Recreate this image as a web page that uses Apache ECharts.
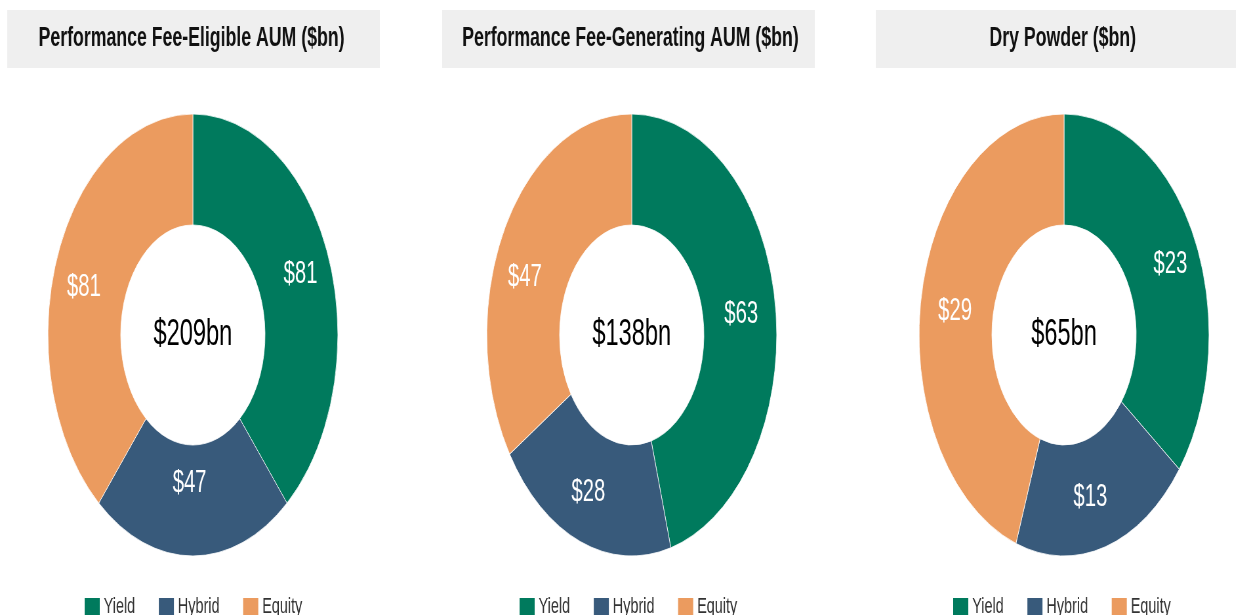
<!DOCTYPE html>
<html>
<head>
    <meta charset="UTF-8">
    <title>Performance Fee AUM</title>
    <script src="https://cdn.jsdelivr.net/npm/echarts@6/dist/echarts.min.js"></script>
</head>
<body style="margin: 0; width: 1236px; height: 615px; overflow: hidden; background: #fff">
    <!-- the source picture is squeezed horizontally, so draw at full width and scale the box -->
    <div id="main" style="width: 1884px; height: 615px; transform: scaleX(0.656); transform-origin: 0 0;"></div>
    <script>
        var categories = ['Yield', 'Hybrid', 'Equity'];
        var chartTitles = ['Performance Fee-Eligible AUM ($bn)', 'Performance Fee-Generating AUM ($bn)', 'Dry Powder ($bn)'];
        var eligibleValues = [81, 47, 81];
        var generatingValues = [63, 28, 47];
        var dryPowderValues = [23, 13, 29];

        var colors = ['#007a5d', '#385a7b', '#eb9b5f'];
        var font = 'Arial, "Liberation Sans", sans-serif';

        var myChart = echarts.init(document.getElementById('main'));

        var allValues = [eligibleValues, generatingValues, dryPowderValues];
        var centersX = [294, 963, 1622];
        var boxesX = [11, 674, 1335];
        var legendsX = [122, 785, 1446];
        // labels in the source were nudged by hand, not sitting exactly mid-ring
        var labelNudges = [
            [[6, -2], [-5, -20], [-8, 11]],
            [[0, 2], [-6, 0], [-15, 23]],
            [[11, 4], [-8, 1], [0, 5]]
        ];

        var series = [];
        var graphics = [];
        var legends = [];

        allValues.forEach(function(values, i) {
            var total = values.reduce(function(a, b) { return a + b; }, 0);

            series.push({
                type: 'pie',
                center: [centersX[i], 335],
                radius: [110, 221],
                startAngle: 90,
                clockwise: true,
                silent: true,
                itemStyle: { borderColor: '#fff', borderWidth: 0.8 },
                label: {
                    show: true,
                    position: 'inside',
                    formatter: '${c}',
                    color: '#fff',
                    fontSize: 31,
                    fontFamily: font
                },
                labelLine: { show: false },
                data: categories.map(function(name, j) {
                    return {
                        name: name,
                        value: values[j],
                        label: { offset: labelNudges[i][j] }
                    };
                })
            });

            // grey header box
            graphics.push({
                type: 'rect',
                shape: { x: boxesX[i], y: 10, width: 568, height: 58 },
                style: { fill: '#efefef' },
                z: 0
            });
            graphics.push({
                type: 'text',
                x: centersX[i] - 2,
                y: 39,
                style: {
                    text: chartTitles[i],
                    fill: '#111',
                    font: 'bold 27px ' + font,
                    align: 'center',
                    verticalAlign: 'middle'
                },
                z: 1
            });
            // total in the hole
            graphics.push({
                type: 'text',
                x: centersX[i],
                y: 335,
                style: {
                    text: '$' + total + 'bn',
                    fill: '#000',
                    font: '36px ' + font,
                    align: 'center',
                    verticalAlign: 'middle'
                },
                z: 1
            });

            legends.push({
                data: categories,
                left: legendsX[i],
                top: 591,
                icon: 'rect',
                itemWidth: 25,
                itemHeight: 20,
                itemGap: 34,
                selectedMode: false,
                textStyle: { fontSize: 22, color: '#333', fontFamily: font }
            });
        });

        var option = {
            animation: false,
            color: colors,
            textStyle: { fontFamily: font },
            legend: legends,
            graphic: graphics,
            series: series
        };

        myChart.setOption(option);
    </script>
</body>
</html>
